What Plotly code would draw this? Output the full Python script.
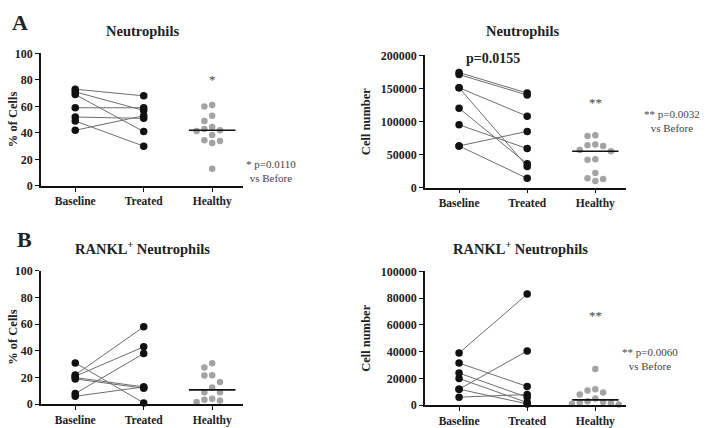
import plotly.graph_objects as go
import numpy as np

# ---------------- data ----------------
categories = ["Baseline", "Treated", "Healthy"]

# Panel A, % of cells (paired patients)
a_pct_baseline = [73, 71, 69, 59, 52, 49, 42]
a_pct_treated = [68, 57, 41, 59, 51, 30, 53]
a_pct_healthy = [61, 60, 53, 49, 44.5, 43, 42, 41.5, 38.5, 34.5, 34, 32.5, 13]

# Panel A, cell number
a_num_baseline = [174000, 171000, 151000, 151000, 120000, 95000, 63000, 63000]
a_num_treated = [143000, 140000, 108000, 32000, 36000, 59000, 85000, 14000]
a_num_healthy = [79000, 78000, 65000, 64000, 63000, 57000, 55000, 43000, 42000, 22000, 14000, 13000, 10000]

# Panel B, RANKL+ % of cells
b_pct_baseline = [31, 22, 21, 20, 19, 8, 6]
b_pct_treated = [1, 58, 43, 13, 12, 38, 13]
b_pct_healthy = [30.7, 27.5, 21.7, 21.5, 16.7, 12.6, 9, 9, 4.1, 3.4, 2.9, 1.7]

# Panel B, RANKL+ cell number
b_num_baseline = [39000, 31500, 24000, 20000, 12000, 12000, 6000]
b_num_treated = [83000, 14000, 6000, 2000, 40500, 1000, 8000]
b_num_healthy = [27000, 12000, 11000, 9500, 8000, 5000, 3000, 2500, 2000, 1500, 1000, 500]

# ---------------- layout helpers ----------------
W, H = 708, 428
FONT = "Liberation Serif, Times New Roman, serif"


def xdom(a, b):
    return [a / W, b / W]


def ydom(top, bottom):
    return [1 - bottom / H, 1 - top / H]


panels = [
    dict(b=a_pct_baseline, t=a_pct_treated, h=a_pct_healthy, xd=(41, 243), yd=(48, 185), yr=100, dt=20),
    dict(b=a_num_baseline, t=a_num_treated, h=a_num_healthy, xd=(425, 626), yd=(50, 186.7), yr=200000, dt=50000),
    dict(b=b_pct_baseline, t=b_pct_treated, h=b_pct_healthy, xd=(41, 243), yd=(272.7, 410.7), yr=100, dt=20),
    dict(b=b_num_baseline, t=b_num_treated, h=b_num_healthy, xd=(425, 626), yd=(273.3, 411.7), yr=100000, dt=20000),
]

XR = [-0.5, 2.45]


def swarm(values, px_per_val, px_per_cat, diam):
    """Greedy beeswarm offsets (in category units)."""
    order = np.argsort(values)[::-1]
    placed = []
    offs = [0.0] * len(values)
    step = diam / px_per_cat
    cands = [0]
    for k in range(1, 6):
        cands += [-k, k]
    for i in order:
        yp = values[i] * px_per_val
        for c in cands:
            xo = c * step
            ok = True
            for (px, py) in placed:
                if ((xo - px) * px_per_cat) ** 2 + (yp - py) ** 2 < (diam * 0.98) ** 2:
                    ok = False
                    break
            if ok:
                offs[i] = xo
                placed.append((xo, yp))
                break
    return offs


fig = go.Figure()
layout = dict(
    width=W, height=H, margin=dict(l=0, r=0, t=0, b=0),
    paper_bgcolor="white", plot_bgcolor="white", showlegend=False,
    font=dict(family=FONT, color="#222"),
)

for i, p in enumerate(panels, start=1):
    xa = "x" if i == 1 else f"x{i}"
    ya = "y" if i == 1 else f"y{i}"
    xk = "xaxis" if i == 1 else f"xaxis{i}"
    yk = "yaxis" if i == 1 else f"yaxis{i}"

    lx, ly = [], []
    for bv, tv in zip(p["b"], p["t"]):
        lx += [0, 1, None]
        ly += [bv, tv, None]
    fig.add_trace(go.Scatter(x=lx, y=ly, mode="lines", line=dict(color="#6e6e6e", width=1),
                             xaxis=xa, yaxis=ya, cliponaxis=False, hoverinfo="skip"))
    fig.add_trace(go.Scatter(x=[0] * len(p["b"]) + [1] * len(p["t"]), y=p["b"] + p["t"],
                             mode="markers", marker=dict(color="#111", size=7.5),
                             xaxis=xa, yaxis=ya, cliponaxis=False))

    px_per_cat = (p["xd"][1] - p["xd"][0]) / (XR[1] - XR[0])
    px_per_val = (p["yd"][1] - p["yd"][0]) / p["yr"]
    offs = swarm(p["h"], px_per_val, px_per_cat, 7.8)
    fig.add_trace(go.Scatter(x=[2 + o for o in offs], y=p["h"], mode="markers",
                             marker=dict(color="#a3a3a3", size=6.5),
                             xaxis=xa, yaxis=ya, cliponaxis=False))
    med = float(np.median(p["h"]))
    fig.add_trace(go.Scatter(x=[2 - 0.34, 2 + 0.34], y=[med, med], mode="lines",
                             line=dict(color="#111", width=1.6), xaxis=xa, yaxis=ya,
                             cliponaxis=False))

    layout[xk] = dict(domain=xdom(*p["xd"]), range=XR, anchor=ya, showline=True,
                      linecolor="#111", linewidth=1.5, ticks="outside", ticklen=4,
                      tickwidth=1.2, tickcolor="#111", tickvals=[0, 1, 2], ticktext=categories,
                      tickfont=dict(family=FONT, size=11.5, weight="bold", color="#222"),
                      showgrid=False, zeroline=False, fixedrange=True)
    layout[yk] = dict(domain=ydom(*p["yd"]), range=[0, p["yr"]], anchor=xa, showline=True,
                      linecolor="#111", linewidth=1.5, ticks="outside", ticklen=4,
                      tickwidth=1.2, tickcolor="#111", dtick=p["dt"], tick0=0, tickformat="d",
                      tickfont=dict(family=FONT, size=12, weight="bold", color="#222"),
                      showgrid=False, zeroline=False, fixedrange=True)

fig.update_layout(**layout)


def ann(text, x, y, size=13, bold=True, xref="paper", yref="paper", angle=0, color="#222", xanchor="center"):
    fig.add_annotation(text=text, x=x, y=y, xref=xref, yref=yref, showarrow=False,
                       textangle=angle, xanchor=xanchor, yanchor="middle",
                       font=dict(family=FONT, size=size, color=color, weight="bold" if bold else "normal"))


def P(xp, yp):
    return xp / W, 1 - yp / H


ann("A", *P(20, 16), size=22)
ann("B", *P(24, 240), size=22)
ann("Neutrophils", *P(142, 25), size=14.5)
ann("Neutrophils", *P(522, 25), size=14.5)
ann("RANKL<sup>+</sup> Neutrophils", *P(142, 249), size=14.5)
ann("RANKL<sup>+</sup> Neutrophils", *P(520, 249), size=14.5)
ann("% of Cells", *P(13, 116), size=12.5, angle=-90)
ann("Cell number", *P(366, 118), size=12.5, angle=-90)
ann("% of Cells", *P(13, 341), size=12.5, angle=-90)
ann("Cell number", *P(366, 342), size=12.5, angle=-90)
ann("*", 2, 80, size=13, bold=False, xref="x", yref="y", color="#444")
ann("**", 2, 129000, size=13, bold=False, xref="x2", yref="y2", color="#444")
ann("**", 2, 67000, size=13, bold=False, xref="x4", yref="y4", color="#444")
ann("p=0.0155", 0.5, 195000, size=14, xref="x2", yref="y2")
ann("* p=0.0110<br>vs Before", *P(271, 170), size=11, bold=False, color="#444")
ann("** p=0.0032<br>vs Before", *P(672, 118), size=11, bold=False, color="#444")
ann("** p=0.0060<br>vs Before", *P(650, 364), size=11, bold=False, color="#444")

fig.write_html("out.html", config={"displayModeBar": False},
               post_script="document.body.style.margin='0';document.body.style.padding='0';"
                           "document.body.style.overflow='hidden';")
